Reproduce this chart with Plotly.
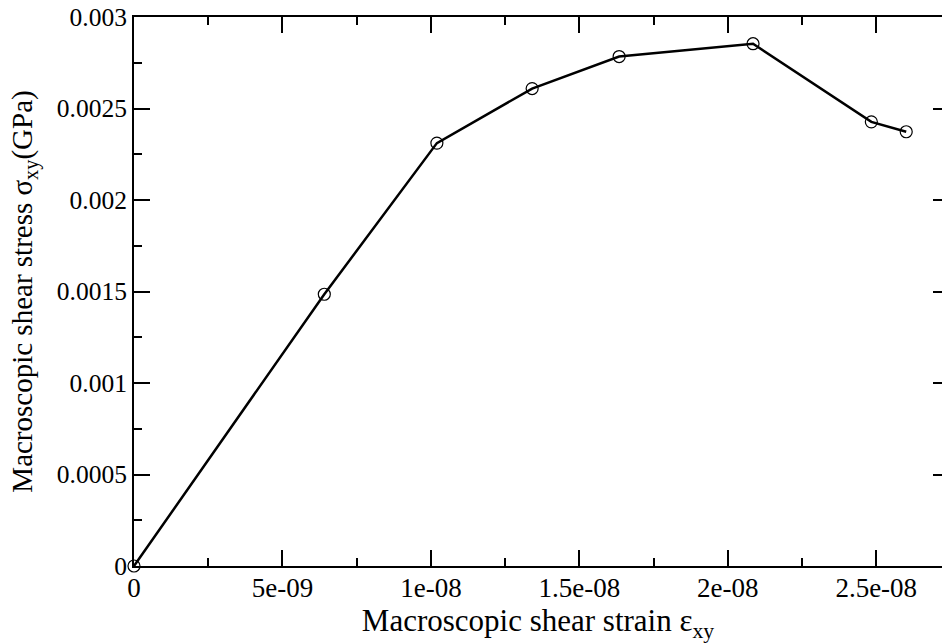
import plotly.graph_objects as go

strain = [0.0, 6.41e-9, 1.0202e-8, 1.341e-8, 1.634e-8, 2.085e-8, 2.4835e-8, 2.601e-8]
stress = [0.0, 0.001485, 0.002311, 0.002609, 0.002784, 0.002854, 0.002427, 0.002373]

x_tickvals = [0, 5e-9, 1e-8, 1.5e-8, 2e-8, 2.5e-8]
x_ticktext = ["0", "5e-09", "1e-08", "1.5e-08", "2e-08", "2.5e-08"]
y_tickvals = [0, 0.0005, 0.001, 0.0015, 0.002, 0.0025, 0.003]
y_ticktext = ["0", "0.0005", "0.001", "0.0015", "0.002", "0.0025", "0.003"]

FONT = "Liberation Serif"

fig = go.Figure()
fig.add_trace(go.Scatter(
    x=strain, y=stress, mode="lines+markers",
    line=dict(color="black", width=2.5),
    marker=dict(symbol="circle-open", size=12, color="black", line=dict(width=1.2, color="black")),
    cliponaxis=False, showlegend=False,
))
# invisible trace on secondary y axis for right-side ticks
fig.add_trace(go.Scatter(x=[strain[0]], y=[stress[0]], yaxis="y2", mode="markers",
                         marker=dict(opacity=0), showlegend=False, hoverinfo="skip"))

fig.update_layout(
    width=942, height=643,
    margin=dict(l=134, r=0, t=17, b=77),
    paper_bgcolor="white", plot_bgcolor="white",
    font=dict(family=FONT, color="black", size=25),
    xaxis=dict(
        range=[0, 2.7215e-8],
        tickmode="array", tickvals=x_tickvals, ticktext=x_ticktext,
        ticks="inside", ticklen=16, tickwidth=1.5, tickcolor="black",
        ticklabelstandoff=-3,
        minor=dict(tickmode="linear", tick0=0, dtick=2.5e-9, ticks="inside",
                   ticklen=8, tickwidth=1.5, tickcolor="black"),
        showline=True, linecolor="black", linewidth=2, mirror="ticks",
        showgrid=False, zeroline=False,
        tickfont=dict(family=FONT, size=27),
        title=dict(text="Macroscopic shear strain ε<sub>xy</sub>",
                   font=dict(family=FONT, size=31), standoff=0),
    ),
    yaxis=dict(
        range=[0, 0.003],
        tickmode="array", tickvals=y_tickvals, ticktext=y_ticktext,
        ticks="inside", ticklen=16, tickwidth=1.5, tickcolor="black",
        minor=dict(tickmode="linear", tick0=0, dtick=0.00025, ticks="inside",
                   ticklen=8, tickwidth=1.5, tickcolor="black"),
        showline=True, linecolor="black", linewidth=2, mirror=False,
        showgrid=False, zeroline=False,
        tickfont=dict(family=FONT, size=25.5),
        title=dict(text="Macroscopic shear stress σ<sub>xy</sub>(GPa)",
                   font=dict(family=FONT, size=29), standoff=16),
    ),
    yaxis2=dict(
        range=[0, 0.003], overlaying="y", side="right",
        tickmode="array", tickvals=y_tickvals, showticklabels=False,
        ticks="inside", ticklen=9, tickwidth=1.5, tickcolor="black",
        showline=False, showgrid=False, zeroline=False,
    ),
)

fig.write_html("out.html")
